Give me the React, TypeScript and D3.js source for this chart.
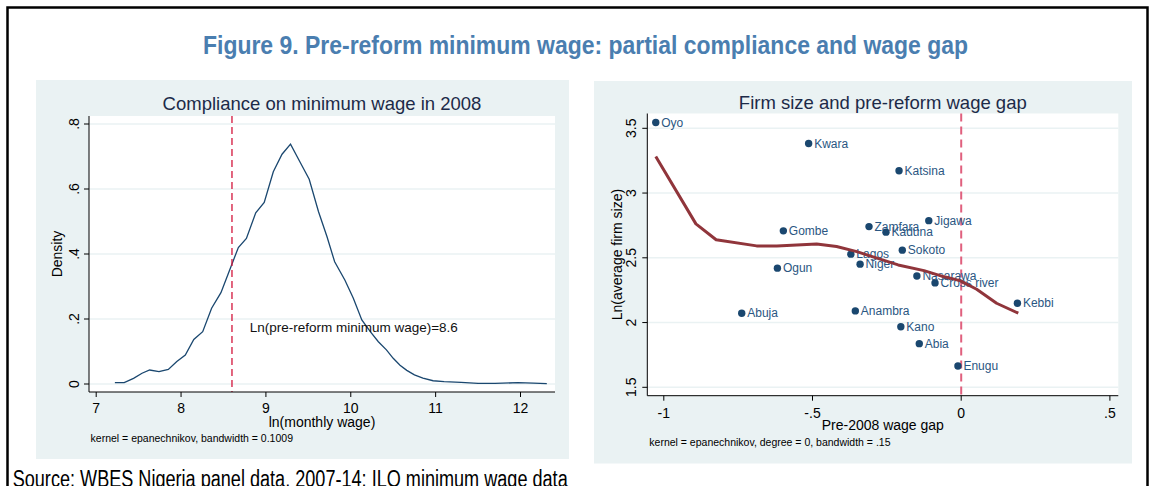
import React from "react";
import * as d3 from "d3";

// ---------- data ----------
const densX = [7.22, 7.33, 7.44, 7.54, 7.63, 7.74, 7.85, 7.95, 8.05, 8.15, 8.255, 8.36, 8.47, 8.557, 8.616, 8.675, 8.77, 8.88, 8.98, 9.087, 9.19, 9.29, 9.4, 9.51, 9.62, 9.72, 9.81, 9.93, 10.03, 10.13, 10.23, 10.325, 10.42, 10.5, 10.58, 10.66, 10.75, 10.85, 10.97, 11.1, 11.3, 11.5, 11.7, 11.97, 12.15, 12.31];
const densY = [0.004, 0.004, 0.0175, 0.033, 0.043, 0.038, 0.045, 0.069, 0.089, 0.137, 0.161, 0.233, 0.281, 0.34, 0.38, 0.42, 0.448, 0.527, 0.559, 0.653, 0.707, 0.738, 0.684, 0.63, 0.53, 0.453, 0.376, 0.32, 0.264, 0.197, 0.161, 0.13, 0.105, 0.079, 0.058, 0.042, 0.028, 0.018, 0.01, 0.007, 0.005, 0.002, 0.002, 0.004, 0.003, 0.001];
const leftXTicks = [7, 8, 9, 10, 11, 12];
const leftYTicks = [0, 0.2, 0.4, 0.6, 0.8];
const leftYTickLabels = ["0", ".2", ".4", ".6", ".8"];
const minWage = 8.6;

const states = ["Oyo", "Kwara", "Katsina", "Jigawa", "Zamfara", "Gombe", "Kaduna", "Sokoto", "Lagos", "Niger", "Ogun", "Nasarawa", "Cross river", "Kebbi", "Abuja", "Anambra", "Kano", "Abia", "Enugu"];
const wageGap = [-1.027, -0.513, -0.209, -0.109, -0.31, -0.598, -0.253, -0.198, -0.371, -0.34, -0.618, -0.149, -0.088, 0.189, -0.738, -0.356, -0.203, -0.141, -0.011];
const lnFirmSize = [3.545, 3.383, 3.172, 2.787, 2.741, 2.708, 2.698, 2.559, 2.528, 2.451, 2.42, 2.36, 2.306, 2.149, 2.072, 2.09, 1.968, 1.837, 1.665];
const smoothX = [-1.027, -0.892, -0.824, -0.688, -0.62, -0.486, -0.419, -0.351, -0.299, -0.212, -0.125, -0.06, -0.004, 0.052, 0.119, 0.192];
const smoothY = [3.282, 2.762, 2.639, 2.592, 2.592, 2.607, 2.587, 2.548, 2.509, 2.445, 2.401, 2.355, 2.324, 2.257, 2.149, 2.072];
const rightXTicks = [-1, -0.5, 0, 0.5];
const rightXTickLabels = ["-1", "-.5", "0", ".5"];
const rightYTicks = [1.5, 2, 2.5, 3, 3.5];
const rightYTickLabels = ["1.5", "2", "2.5", "3", "3.5"];

// ---------- styles ----------
const BG = "#eaf2f3";
const NAVY = "#1a476f";
const MAROON = "#90353b";
const TXT = "#1c2a48";
const SANS = "'Liberation Sans', Arial, sans-serif";
const NARROW = "'Liberation Sans Narrow', 'Arial Narrow', 'Liberation Sans', Arial, sans-serif";

export default function App() {
  // left panel scales
  const lx = d3.scaleLinear().domain([7, 12]).range([96.2, 520.5]);
  const ly = d3.scaleLinear().domain([0, 0.8]).range([384, 124]);
  const L = { x0: 89, x1: 555, y0: 116, y1: 392 };
  const densLine = d3.line<number>().x((d, i) => lx(densX[i])).y((d, i) => ly(densY[i]));

  // right panel scales
  const rx = d3.scaleLinear().domain([0, 0.5]).range([961.2, 1109.9]);
  const ry = d3.scaleLinear().domain([1.5, 3.5]).range([387.3, 128.3]);
  const R = { x0: 647.3, x1: 1118.3, y0: 113.5, y1: 395.7 };
  const smLine = d3.line<number>().x((d, i) => rx(smoothX[i])).y((d, i) => ry(smoothY[i]));

  return (
    <svg width={1155} height={486} style={{ position: "absolute", left: 0, top: 0, background: "#fff" }}>
      {/* outer frame */}
      <rect x={7.5} y={7.5} width={1140} height={500} fill="none" stroke="#000" strokeWidth={2.5} />
      <text x={203} y={54} fontFamily={NARROW} fontWeight="bold" fontSize={26} fill="#4a7eb0" textLength={765} lengthAdjust="spacingAndGlyphs">
        Figure 9. Pre-reform minimum wage: partial compliance and wage gap
      </text>

      {/* ---------- left panel ---------- */}
      <rect x={36} y={80} width={533} height={379} fill={BG} />
      <rect x={L.x0} y={L.y0} width={L.x1 - L.x0} height={L.y1 - L.y0} fill="#fff" />
      <text x={(L.x0 + L.x1) / 2} y={110} textAnchor="middle" fontFamily={SANS} fontSize={18.5} fill={TXT}>
        Compliance on minimum wage in 2008
      </text>
      {leftYTicks.map((t) => (
        <line key={"lg" + t} x1={L.x0} x2={L.x1} y1={ly(t)} y2={ly(t)} stroke={BG} strokeWidth={1.5} />
      ))}
      <path d={densLine(densX) || ""} fill="none" stroke={NAVY} strokeWidth={1.3} />
      <line x1={lx(minWage)} x2={lx(minWage)} y1={L.y0} y2={L.y1} stroke="#d3163c" strokeWidth={1.3} strokeDasharray="7,4" />
      <text x={249.7} y={332} fontFamily={SANS} fontSize={13.5} fill="#111">
        Ln(pre-reform minimum wage)=8.6
      </text>
      <line x1={L.x0} x2={L.x0} y1={L.y0} y2={L.y1} stroke="#000" strokeWidth={1} />
      <line x1={L.x0} x2={L.x1} y1={L.y1} y2={L.y1} stroke="#000" strokeWidth={1} />
      {leftYTicks.map((t, i) => (
        <g key={"ly" + t}>
          <line x1={L.x0 - 5} x2={L.x0} y1={ly(t)} y2={ly(t)} stroke="#000" />
          <text transform={`translate(79,${ly(t)}) rotate(-90)`} textAnchor="middle" fontFamily={SANS} fontSize={14} fill="#000">
            {leftYTickLabels[i]}
          </text>
        </g>
      ))}
      {leftXTicks.map((t) => (
        <g key={"lx" + t}>
          <line x1={lx(t)} x2={lx(t)} y1={L.y1} y2={L.y1 + 5} stroke="#000" />
          <text x={lx(t)} y={413} textAnchor="middle" fontFamily={SANS} fontSize={14} fill="#000">
            {t}
          </text>
        </g>
      ))}
      <text transform={`translate(62,${(L.y0 + L.y1) / 2}) rotate(-90)`} textAnchor="middle" fontFamily={SANS} fontSize={14} fill="#000">
        Density
      </text>
      <text x={(L.x0 + L.x1) / 2} y={427} textAnchor="middle" fontFamily={SANS} fontSize={14} fill="#000">
        ln(monthly wage)
      </text>
      <text x={90.6} y={442} fontFamily={SANS} fontSize={10.5} fill="#000">
        kernel = epanechnikov, bandwidth = 0.1009
      </text>

      {/* ---------- right panel ---------- */}
      <rect x={594} y={81} width={538} height={382.5} fill={BG} />
      <rect x={R.x0} y={R.y0} width={R.x1 - R.x0} height={R.y1 - R.y0} fill="#fff" />
      <text x={(R.x0 + R.x1) / 2} y={108.5} textAnchor="middle" fontFamily={SANS} fontSize={18.5} fill={TXT}>
        Firm size and pre-reform wage gap
      </text>
      {rightYTicks.map((t) => (
        <line key={"rg" + t} x1={R.x0} x2={R.x1} y1={ry(t)} y2={ry(t)} stroke={BG} strokeWidth={1.5} />
      ))}
      <line x1={rx(0)} x2={rx(0)} y1={R.y0} y2={R.y1} stroke="#e0607e" strokeWidth={2} strokeDasharray="8,5" />
      {states.map((s, i) => (
        <g key={s}>
          <circle cx={rx(wageGap[i])} cy={ry(lnFirmSize[i])} r={3.7} fill={NAVY} />
          <text x={rx(wageGap[i]) + 5.5} y={ry(lnFirmSize[i]) + 4.2} fontFamily={SANS} fontSize={12} fill="#2a5682">
            {s}
          </text>
        </g>
      ))}
      <path d={smLine(smoothX) || ""} fill="none" stroke={MAROON} strokeWidth={3} strokeLinejoin="round" />
      <line x1={R.x0} x2={R.x0} y1={R.y0} y2={R.y1} stroke="#000" strokeWidth={1} />
      <line x1={R.x0} x2={R.x1} y1={R.y1} y2={R.y1} stroke="#000" strokeWidth={1} />
      {rightYTicks.map((t, i) => (
        <g key={"ry" + t}>
          <line x1={R.x0 - 5} x2={R.x0} y1={ry(t)} y2={ry(t)} stroke="#000" />
          <text transform={`translate(635.5,${ry(t)}) rotate(-90)`} textAnchor="middle" fontFamily={SANS} fontSize={14} fill="#000">
            {rightYTickLabels[i]}
          </text>
        </g>
      ))}
      {rightXTicks.map((t, i) => (
        <g key={"rx" + t}>
          <line x1={rx(t)} x2={rx(t)} y1={R.y1} y2={R.y1 + 5} stroke="#000" />
          <text x={rx(t)} y={418} textAnchor="middle" fontFamily={SANS} fontSize={14} fill="#000">
            {rightXTickLabels[i]}
          </text>
        </g>
      ))}
      <text transform={`translate(621.5,${(R.y0 + R.y1) / 2}) rotate(-90)`} textAnchor="middle" fontFamily={SANS} fontSize={14} fill="#000">
        Ln(average firm size)
      </text>
      <text x={(R.x0 + R.x1) / 2} y={430} textAnchor="middle" fontFamily={SANS} fontSize={14} fill="#000">
        Pre-2008 wage gap
      </text>
      <text x={649.3} y={446} fontFamily={SANS} fontSize={10.5} fill="#000">
        kernel = epanechnikov, degree = 0, bandwidth = .15
      </text>

      {/* source */}
      <text x={12.7} y={486.5} fontFamily={NARROW} fontSize={23} fill="#000" textLength={555} lengthAdjust="spacingAndGlyphs">
        Source: WBES Nigeria panel data, 2007-14; ILO minimum wage data
      </text>
    </svg>
  );
}
